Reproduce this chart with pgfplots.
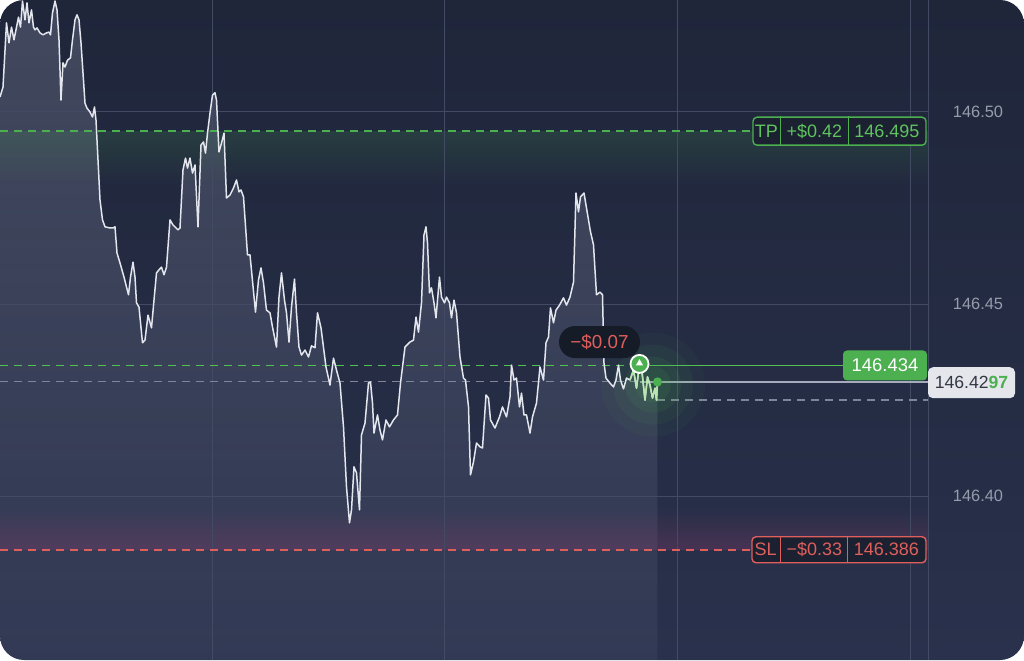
\documentclass[border=0pt]{standalone}
\usepackage{fontspec}
\setmainfont{Liberation Sans}
\usepackage{pgfplots}
\usepackage{pgfplotstable}
\pgfplotsset{compat=1.18}
\usepgfplotslibrary{fillbetween}
\usetikzlibrary{fadings,shapes.geometric}
\definecolor{bgTop}{RGB}{31,38,58}
\definecolor{bgBot}{RGB}{41,49,76}
\definecolor{gridc}{RGB}{66,74,100}
\definecolor{tpgreen}{RGB}{95,195,95}
\definecolor{lblgreen}{RGB}{76,175,80}
\definecolor{entrygreen}{RGB}{80,195,80}
\definecolor{slred}{RGB}{222,95,92}
\definecolor{slglow}{RGB}{150,60,110}
\definecolor{boxdark}{RGB}{27,33,48}
\definecolor{axlab}{RGB}{150,156,172}
\definecolor{greydash}{RGB}{128,133,155}
\definecolor{curline}{RGB}{165,170,188}
\definecolor{pillbg}{RGB}{22,27,40}
\definecolor{linec}{RGB}{228,230,238}
\definecolor{tailc}{RGB}{185,230,175}
\definecolor{curbg}{RGB}{228,230,235}
\definecolor{curtext}{RGB}{50,55,66}
\definecolor{areac}{RGB}{205,210,238}
\tikzfading[name=fadeDown, top color=transparent!0, bottom color=transparent!100]
\tikzfading[name=fadeUp, top color=transparent!100, bottom color=transparent!0]
\tikzfading[name=areaFade, top color=transparent!8, bottom color=transparent!75]

\pgfplotstableread{
x y
0 146.5039
3 146.5065
6.5 146.5232
9 146.5180
11.5 146.5221
14 146.5188
16 146.5214
18.5 146.5247
20.5 146.5221
22.5 146.5289
25 146.5240
27 146.5284
29 146.5232
31.5 146.5266
33.5 146.5221
35 146.5214
37 146.5219
40 146.5206
43 146.5201
46.5 146.5206
49 146.5208
50.5 146.5201
52.5 146.5258
55 146.5289
57 146.5266
59 146.5188
61 146.5031
63 146.5128
65 146.5117
67.5 146.5135
70.5 146.5141
72.5 146.5188
75 146.5240
77 146.5253
79 146.5240
81 146.5180
83 146.5102
85 146.5023
87 146.5010
90 146.5000
92.5 146.4987
94.5 146.5013
96 146.4979
97.5 146.4901
100 146.4771
102.5 146.4719
105 146.4701
110 146.4698
113 146.4698
115 146.4701
117 146.4633
120 146.4607
124 146.4570
128.5 146.4524
130.5 146.4570
133 146.4609
135 146.4570
136.5 146.4503
139 146.4492
142.5 146.4399
145 146.4406
148 146.4471
151.5 146.4438
154 146.4510
156.5 146.4581
159 146.4589
161.5 146.4596
164 146.4576
166.5 146.4596
170 146.4719
173 146.4706
178 146.4693
180 146.4698
183 146.4849
185.5 146.4880
187.5 146.4854
190 146.4880
192.5 146.4841
195 146.4862
198 146.4701
201 146.4914
203.5 146.4922
205.5 146.4893
207.5 146.4945
210 146.4997
212.5 146.5044
215 146.5050
216.5 146.5031
219 146.4896
221.5 146.4919
224 146.4945
226.5 146.4776
230 146.4784
233.5 146.4802
236.5 146.4823
239 146.4792
241 146.4797
243.5 146.4779
247.5 146.4628
250 146.4628
255.5 146.4479
258.5 146.4563
261 146.4594
263.5 146.4555
266.5 146.4484
270 146.4477
272.5 146.4440
276.5 146.4388
279 146.4518
281.5 146.4581
284.5 146.4510
286.5 146.4477
289 146.4401
291.5 146.4492
294.5 146.4565
296.5 146.4477
299 146.4388
301.5 146.4367
305 146.4380
308.5 146.4362
311.5 146.4391
315 146.4386
317.5 146.4477
321 146.4438
326 146.4336
330 146.4289
333.5 146.4359
336.5 146.4328
340 146.4294
343.5 146.4180
346.5 146.4024
349.5 146.3930
351.5 146.3964
354 146.4076
356.5 146.4060
359.5 146.3964
361.5 146.4159
365 146.4190
368.5 146.4294
370.5 146.4297
372.5 146.4242
374 146.4164
377.5 146.4211
380 146.4172
382.5 146.4146
386 146.4198
389.5 146.4180
393.5 146.4198
397.5 146.4211
400.5 146.4294
405 146.4388
410 146.4401
413.5 146.4406
416 146.4466
418.5 146.4427
421.5 146.4503
424 146.4680
426 146.4701
427.5 146.4659
429.5 146.4529
431.5 146.4542
434 146.4503
436 146.4464
439.5 146.4570
441.5 146.4518
444.5 146.4503
446.5 146.4518
449.5 146.4503
451.5 146.4464
454 146.4510
456.5 146.4477
460 146.4362
463.5 146.4307
465.5 146.4302
468.5 146.4232
470.5 146.4055
473.5 146.4089
476.5 146.4138
480 146.4128
482.5 146.4125
486 146.4263
488.5 146.4255
490.5 146.4198
495 146.4177
499.5 146.4206
502.5 146.4232
506.5 146.4206
510 146.4258
511.5 146.4341
514 146.4302
516.5 146.4307
519.5 146.4232
521.5 146.4268
524 146.4211
526.5 146.4211
530 146.4164
532.5 146.4206
536.5 146.4242
540 146.4336
543.5 146.4302
546 146.4399
548.5 146.4414
550.5 146.4490
553.5 146.4451
556 146.4484
559.5 146.4497
563.5 146.4516
566.5 146.4497
570 146.4518
573.5 146.4557
576 146.4789
578.5 146.4740
580.5 146.4779
584 146.4789
586.5 146.4750
590.5 146.4688
593.5 146.4654
596.5 146.4524
600 146.4531
602.5 146.4524
604 146.4346
606 146.4307
610 146.4294
613.5 146.4284
616 146.4302
618.5 146.4341
620.5 146.4302
623.5 146.4279
626.5 146.4307
630 146.4302
633.5 146.4328
636.5 146.4281
639.5 146.4344
642 146.4323
645 146.4250
647.5 146.4310
650 146.4289
652.5 146.4255
655 146.4281
656.5 146.4250
657.5 146.4297
}\pricedata

\begin{document}
\begin{tikzpicture}
\begin{axis}[
  set layers,
  width=512pt, height=330pt, scale only axis,
  xmin=0, xmax=1024, ymin=146.357292, ymax=146.529167,
  axis background/.style={shade, top color=bgTop, bottom color=bgBot, rounded corners=12pt},
  axis line style={draw=none}, tick style={draw=none},
  xtick=\empty,
  ytick={146.40,146.45,146.50},
  yticklabel pos=right,
  yticklabel style={anchor=center, xshift=-23pt, font=\fontsize{8.2}{9}\selectfont, text=axlab,
    /pgf/number format/fixed, /pgf/number format/fixed zerofill,
    /pgf/number format/precision=2, /pgf/number format/assume math mode=true},
  clip=true,
]
% area under price (pre main layer)
\addplot[name path=price, draw=none, forget plot] table {\pricedata};
\path[name path=bottom] (axis cs:0,146.357292) -- (axis cs:657.5,146.357292);
\addplot[fill=areac, fill opacity=0.22, draw=none, path fading=areaFade] fill between[of=price and bottom];
% glow bands
\fill[lblgreen, fill opacity=0.16, path fading=fadeDown]
  (axis cs:0,146.495) rectangle (axis cs:928,146.481);
\fill[slglow, fill opacity=0.30, path fading=fadeUp]
  (axis cs:0,146.3971) rectangle (axis cs:928,146.386);
% grid
\draw[gridc, line width=0.5pt] (axis cs:0,146.50) -- (axis cs:928,146.50);
\draw[gridc, line width=0.5pt] (axis cs:0,146.45) -- (axis cs:928,146.45);
\draw[gridc, line width=0.5pt] (axis cs:0,146.40) -- (axis cs:928,146.40);
\draw[gridc, line width=0.5pt] (axis cs:212,146.357292) -- (axis cs:212,146.529167);
\draw[gridc, line width=0.5pt] (axis cs:444,146.357292) -- (axis cs:444,146.529167);
\draw[gridc, line width=0.5pt] (axis cs:677,146.357292) -- (axis cs:677,146.529167);
\draw[gridc, line width=0.5pt] (axis cs:910,146.357292) -- (axis cs:910,146.529167);
\draw[gridc, line width=0.5pt] (axis cs:928,146.357292) -- (axis cs:928,146.529167);
% level lines
\draw[draw=lblgreen, line width=0.75pt, dash pattern=on 4pt off 3pt] (axis cs:0,146.495) -- (axis cs:753,146.495);
\draw[draw=slred, line width=0.75pt, dash pattern=on 4pt off 3pt] (axis cs:0,146.386) -- (axis cs:752,146.386);
\draw[draw=greydash, line width=0.65pt, dash pattern=on 4pt off 3pt] (axis cs:0,146.4299) -- (axis cs:640,146.4299);
\draw[draw=curline, line width=0.55pt] (axis cs:640,146.4297) -- (axis cs:928,146.4297);
\draw[draw=greydash, line width=0.65pt, dash pattern=on 4pt off 3pt] (axis cs:657,146.425) -- (axis cs:928,146.425);
\addplot[color=entrygreen, line width=0.85pt, dash pattern=on 4pt off 3pt, forget plot] coordinates {(0,146.434) (640,146.434)};
\addplot[color=entrygreen, line width=0.85pt, forget plot] coordinates {(640,146.434) (843,146.434)};
% glow around current price
\fill[lblgreen, opacity=0.05] (axis cs:653,146.4290) circle[radius=26pt];
\fill[lblgreen, opacity=0.07] (axis cs:653,146.4290) circle[radius=20pt];
\fill[lblgreen, opacity=0.09] (axis cs:653,146.4290) circle[radius=14pt];
\fill[lblgreen, opacity=0.11] (axis cs:653,146.4290) circle[radius=9pt];
% price line
\addplot[linec, line width=0.75pt, line join=round] table {\pricedata};
\addplot[tailc, line width=0.75pt, line join=round, restrict x to domain=629:658] table {\pricedata};
% markers
\fill[lblgreen] (axis cs:657.5,146.4297) circle[radius=2.3pt];
\node[circle, draw=white, line width=0.9pt, fill=lblgreen, minimum size=9pt, inner sep=0pt]
  (entry) at (axis cs:639.5,146.4344) {};
\node[regular polygon, regular polygon sides=3, fill=white, minimum size=4.2pt, inner sep=0pt]
  at ([yshift=0.3pt]entry.center) {};
% pill
\node[fill=pillbg, rounded corners=8pt, minimum width=40.5pt, minimum height=16pt, inner sep=0pt,
  text=slred, font=\fontsize{9.4}{10}\selectfont] at (axis cs:599.5,146.4401) {−\$0.07};
% TP box
\node[draw=lblgreen, line width=0.7pt, fill=boxdark, rounded corners=2pt,
  minimum width=86.5pt, minimum height=14pt, inner sep=0pt] (tp) at (axis cs:839.5,146.495) {};
\draw[lblgreen, line width=0.7pt] ([xshift=14pt]tp.north west) -- ([xshift=14pt]tp.south west);
\draw[lblgreen, line width=0.7pt] ([xshift=48pt]tp.north west) -- ([xshift=48pt]tp.south west);
\node[text=tpgreen, font=\fontsize{9}{10}\selectfont, inner sep=0pt] at ([xshift=7pt]tp.west) {TP};
\node[text=tpgreen, font=\fontsize{9}{10}\selectfont, inner sep=0pt] at ([xshift=31pt]tp.west) {+\$0.42};
\node[text=tpgreen, font=\fontsize{9}{10}\selectfont, inner sep=0pt] at ([xshift=67.25pt]tp.west) {146.495};
% SL box
\node[draw=slred, line width=0.7pt, fill=boxdark, rounded corners=2pt,
  minimum width=87pt, minimum height=13pt, inner sep=0pt] (sl) at (axis cs:839,146.386) {};
\draw[slred, line width=0.7pt] ([xshift=14.5pt]sl.north west) -- ([xshift=14.5pt]sl.south west);
\draw[slred, line width=0.7pt] ([xshift=48pt]sl.north west) -- ([xshift=48pt]sl.south west);
\node[text=slred, font=\fontsize{9}{10}\selectfont, inner sep=0pt] at ([xshift=7.2pt]sl.west) {SL};
\node[text=slred, font=\fontsize{9}{10}\selectfont, inner sep=0pt] at ([xshift=31.5pt]sl.west) {−\$0.33};
\node[text=slred, font=\fontsize{9}{10}\selectfont, inner sep=0pt] at ([xshift=67.5pt]sl.west) {146.386};
% entry price label
\node[fill=lblgreen, rounded corners=2pt, minimum width=42pt, minimum height=15pt, inner sep=0pt,
  text=white, font=\fontsize{9.2}{10}\selectfont] at (axis cs:885,146.434) {146.434};
% current price label
\node[fill=curbg, rounded corners=2.5pt, minimum width=43.5pt,
  minimum height=15.5pt, inner sep=0pt, text=curtext,
  font=\fontsize{8.8}{10}\selectfont] at (axis cs:971.5,146.4295) {146.42\textcolor{lblgreen}{\bfseries 97}};
\end{axis}
\end{tikzpicture}
\end{document}
